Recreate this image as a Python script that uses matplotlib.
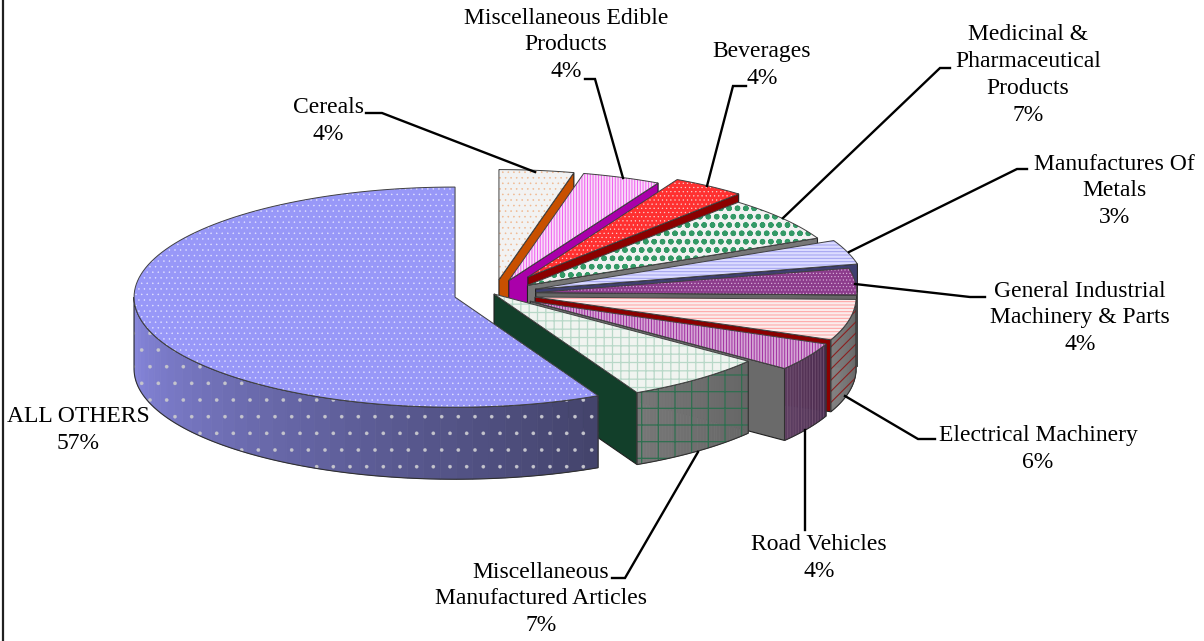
import numpy as np
import matplotlib
matplotlib.use("Agg")
import matplotlib.pyplot as plt
from matplotlib.patches import Polygon
from matplotlib.colors import to_rgb

plt.rcParams['font.family'] = ['Liberation Serif', 'DejaVu Serif']

# clockwise from 12 o'clock
names = ["Cereals", "Miscellaneous Edible\nProducts", "Beverages",
         "Medicinal &\nPharmaceutical\nProducts", "Manufactures Of\nMetals",
         "General Industrial\nMachinery & Parts", "Electrical Machinery",
         "Road Vehicles", "Miscellaneous\nManufactured Articles", "ALL OTHERS"]
pct_labels = ["4%", "4%", "4%", "7%", "3%", "4%", "6%", "4%", "7%", "57%"]
# slice sizes as measured on the picture
values = [3.75, 3.95, 3.7, 6.55, 3.5, 3.9, 6.0, 4.1, 7.2, 57.35]
explode = [42, 42, 60, 42, 44, 42, 42, 42, 0, 40]
radius = [321, 321, 321, 321, 330, 321, 321, 321, 321, 321]

top_colors = ["#f2f2f2", "#f8dcf8", "#ff3030", "#f2f2f2", "#dcdcff", "#8c3c8c", "#fbecec", "#d4a4d4", "#f0f4f0", "#9898f8"]
top_hatch = ["...", "||||||", "....", "oo", "-----", ".....", "-----", "||||||", "++", "..."]
top_hatch_lw = [0.4, 0.7, 0.4, 1.6, 0.7, 0.4, 0.7, 0.6, 0.9, 0.3]
hatch_colors = ["#f0b890", "#f060f0", "#f8d0d0", "#339966", "#a0a0f0", "#e0b8e0", "#ffa0a0", "#9a209a", "#b8d8c8", "#e4e4ff"]
end_colors = ["#c85000", "#aa00aa", "#8b0000", "#777777", "#3f3f70", "#666666", "#8b0000", "#6a6a6a", "#123f2a", "#444470"]
wall_light = ["#999999", "#999999", "#999999", "#999999", "#3f3f70", "#666666", "#808080", "#5c3c60", "#777777", "#8888e0"]
wall_dark = ["#999999", "#999999", "#999999", "#999999", "#3f3f70", "#666666", "#666666", "#4a2c50", "#666666", "#44446c"]
wall_hatch = ["", "", "", "", "", "", "///", "||||||", "+", "."]
wall_hatch_colors = ["#000000", "#000000", "#000000", "#000000", "#000000", "#000000", "#8b2020", "#705070", "#2f6f50", "#c4c4cc"]
wall_hatch_lw = [0.7, 0.7, 0.7, 0.7, 0.7, 0.7, 0.8, 0.7, 0.9, 0.2]

cx, cy = 494, 294
squash = 0.343
depth = 72

leaders = [[(366, 113), (382, 113), (535, 172)],
           [(585, 79), (595, 79), (623, 178)],
           [(746, 86), (733, 86), (707, 186)],
           [(950, 68), (940, 68), (783, 218)],
           [(1027, 169), (1017, 169), (849, 252)],
           [(985, 297), (970, 297), (855, 284)],
           [(935, 439), (918, 439), (845, 396)],
           [(805, 530), (805, 430)],
           [(612, 578), (625, 578), (698, 452)]]
label_pos = [(328, 121), (566, 45), (762, 65), (1028, 75), (1114, 191),
             (1080, 318), (1038, 449), (819, 558), (541, 599), (78, 430)]

fig = plt.figure(figsize=(12.04, 6.41), dpi=100)
ax = fig.add_axes([0, 0, 1, 1])
ax.set_xlim(0, 1204)
ax.set_ylim(641, 0)
ax.axis("off")


def rim(x0, y0, r, a0, a1, n=60):
    t = np.radians(np.linspace(a0, a1, n))
    return np.column_stack([x0 + r * np.cos(t), y0 - squash * r * np.sin(t)])


def mix(c1, c2, f):
    a = np.array(to_rgb(c1))
    b = np.array(to_rgb(c2))
    return a + (b - a) * f


angle = 90.0
z = 1
for i, v in enumerate(values):
    a0 = angle
    a1 = angle - v * 3.6
    angle = a1
    mid = np.radians((a0 + a1) / 2)
    x0 = cx + explode[i] * np.cos(mid)
    y0 = cy - squash * explode[i] * np.sin(mid)
    r = radius[i]
    arc = rim(x0, y0, r, a0, a1, 120)

    # flat cut face on the clockwise side
    if a1 > -90:
        p = arc[-1]
        ax.add_patch(Polygon([(x0, y0), p, (p[0], p[1] + depth), (x0, y0 + depth)], closed=True,
                             facecolor=end_colors[i], edgecolor="#202020", lw=0.8, zorder=z))
        z += 1

    # outer wall, only where it faces front (0 to -180 degrees)
    w0 = min(a0, 0)
    w1 = max(a1, -180)
    if w1 < w0:
        w = np.linspace(w1, w0, 41)   # left to right, light to dark
        for j in range(len(w) - 1):
            seg = rim(x0, y0, r, w[j], w[j + 1], 2)
            quad = np.vstack([seg, seg[::-1] + [0, depth]])
            c = mix(wall_light[i], wall_dark[i], j / (len(w) - 2))
            ax.add_patch(Polygon(quad, closed=True, facecolor=c, edgecolor=c, lw=0.5, zorder=z))
        z += 1
        edge = rim(x0, y0, r, w0, w1, 80)
        band = np.vstack([edge, edge[::-1] + [0, depth]])
        plt.rcParams['hatch.linewidth'] = wall_hatch_lw[i]
        ax.add_patch(Polygon(band, closed=True, fill=False, edgecolor=wall_hatch_colors[i],
                             hatch=wall_hatch[i], lw=0, zorder=z))
        ax.add_patch(Polygon(band, closed=True, fill=False, edgecolor="#303030", lw=0.8, zorder=z))
        z += 1

    # top of the slice
    pts = np.vstack([[x0, y0], arc])
    plt.rcParams['hatch.linewidth'] = top_hatch_lw[i]
    ax.add_patch(Polygon(pts, closed=True, facecolor=top_colors[i], edgecolor=hatch_colors[i],
                         hatch=top_hatch[i], lw=0, zorder=z))
    ax.add_patch(Polygon(pts, closed=True, fill=False, edgecolor="#404040", lw=0.7, zorder=z))
    z += 1

for pts in leaders:
    xs, ys = zip(*pts)
    ax.plot(xs, ys, color="black", lw=1.7, solid_joinstyle="miter", zorder=z)

for name, pct, (x, y) in zip(names, pct_labels, label_pos):
    ax.text(x, y, name + "\n" + pct, ha="center", va="center", fontsize=17, linespacing=1.37,
            color="black", zorder=z + 1)

# chart frame, only the left side shows
ax.plot([2.5, 2.5], [0, 641], color="#202020", lw=1.6, zorder=z)

fig.savefig("out.png", dpi=100)
